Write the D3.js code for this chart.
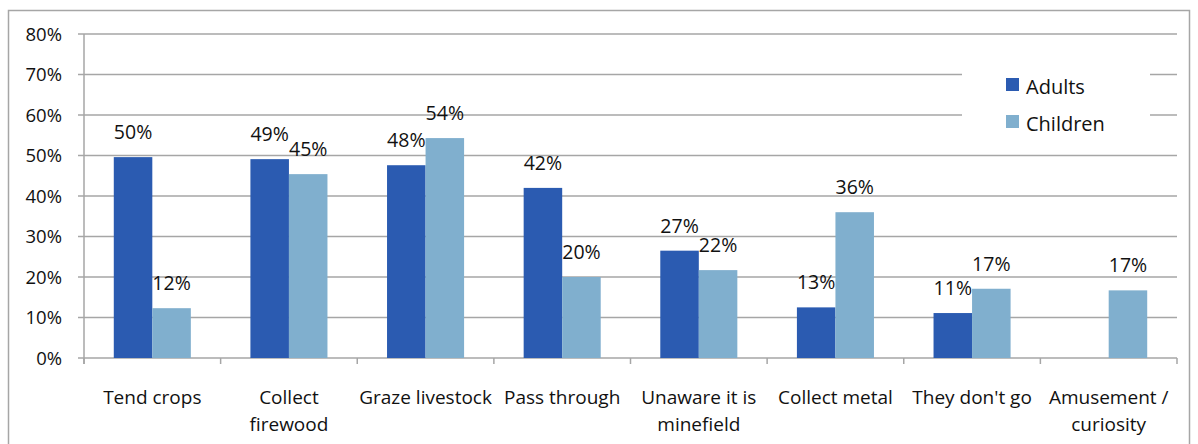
<!DOCTYPE html>
<head>
    <script src="https://d3js.org/d3.v7.min.js"></script>
    <style>
        body { margin: 0; background: #fff; }
        text { font-family: "Open Sans", sans-serif; fill: #111; }
    </style>
</head>
<body>
    <svg></svg>
</body>

<script>
    // Data
    var categories = [
        ["Tend crops"],
        ["Collect", "firewood"],
        ["Graze livestock"],
        ["Pass through"],
        ["Unaware it is", "minefield"],
        ["Collect metal"],
        ["They don't go"],
        ["Amusement /", "curiosity"]
    ];
    var seriesNames = ["Adults", "Children"];
    var adults = [0.496, 0.491, 0.476, 0.42, 0.265, 0.125, 0.111, null];
    var children = [0.123, 0.454, 0.543, 0.20, 0.217, 0.36, 0.171, 0.167];
    var yTicks = [0, 0.1, 0.2, 0.3, 0.4, 0.5, 0.6, 0.7, 0.8];
    var colors = ["#2b5bb1", "#80afce"];

    // Variables
    var width = 1198, height = 444;
    var plot = { left: 84, right: 1177, top: 34, bottom: 358 };

    var svg = d3.select('svg')
        .attr('width', width)
        .attr('height', height);

    // outer frame
    svg.append('rect')
        .attr('x', 8.5).attr('y', 10.5)
        .attr('width', 1181).attr('height', 450)
        .attr('fill', 'none')
        .attr('stroke', '#a6a6a6')
        .attr('stroke-width', 1.5);

    var x0 = d3.scaleBand()
        .domain(d3.range(categories.length))
        .range([plot.left, plot.right]);
    var barW = x0.bandwidth() * 0.282;
    var x1 = d3.scaleBand()
        .domain([0, 1])
        .range([x0.bandwidth() / 2 - barW, x0.bandwidth() / 2 + barW]);

    var y = d3.scaleLinear()
        .domain([0, 0.8])
        .range([plot.bottom, plot.top]);

    // Gridlines
    svg.append('g')
        .selectAll('line')
        .data(yTicks)
        .enter().append('line')
        .attr('x1', plot.left - 6).attr('x2', plot.right)
        .attr('y1', function (d) { return y(d); })
        .attr('y2', function (d) { return y(d); })
        .attr('stroke', '#a6a6a6')
        .attr('stroke-width', 1.5);

    // Y labels
    svg.append('g')
        .selectAll('text')
        .data(yTicks)
        .enter().append('text')
        .attr('x', 62)
        .attr('y', function (d) { return y(d) + 6.5; })
        .attr('text-anchor', 'end')
        .style('font-size', '18.5px')
        .text(d3.format('.0%'));

    // Y axis line
    svg.append('line')
        .attr('x1', plot.left).attr('x2', plot.left)
        .attr('y1', plot.top).attr('y2', plot.bottom + 6)
        .attr('stroke', '#a6a6a6').attr('stroke-width', 1.5);

    // X ticks
    svg.append('g')
        .selectAll('line')
        .data(d3.range(categories.length + 1))
        .enter().append('line')
        .attr('x1', function (i) { return plot.left + i * x0.step(); })
        .attr('x2', function (i) { return plot.left + i * x0.step(); })
        .attr('y1', plot.bottom).attr('y2', plot.bottom + 6)
        .attr('stroke', '#a6a6a6').attr('stroke-width', 1.5);

    // Bars
    var series = [adults, children];
    var rows = [];
    series.forEach(function (vals, s) {
        vals.forEach(function (v, i) {
            if (v !== null) rows.push({ s: s, i: i, v: v });
        });
    });

    svg.append('g')
        .selectAll('rect')
        .data(rows)
        .enter().append('rect')
        .attr('x', function (d) { return x0(d.i) + x1(d.s); })
        .attr('y', function (d) { return y(d.v); })
        .attr('width', x1.bandwidth())
        .attr('height', function (d) { return plot.bottom - y(d.v); })
        .attr('fill', function (d) { return colors[d.s]; });

    // Value labels
    svg.append('g')
        .selectAll('text')
        .data(rows)
        .enter().append('text')
        .attr('x', function (d) { return x0(d.i) + x1(d.s) + x1.bandwidth() / 2; })
        .attr('y', function (d) { return y(d.v) - 18; })
        .attr('text-anchor', 'middle')
        .style('font-size', '19.5px')
        .text(function (d) { return Math.round(d.v * 100) + '%'; });

    // Category labels
    var cat = svg.append('g')
        .selectAll('text')
        .data(categories)
        .enter().append('text')
        .attr('x', function (d, i) { return x0(i) + x0.bandwidth() / 2; })
        .attr('y', 404)
        .attr('text-anchor', 'middle')
        .style('font-size', '19px');
    cat.selectAll('tspan')
        .data(function (d) { return d; })
        .enter().append('tspan')
        .attr('x', function () { return d3.select(this.parentNode).attr('x'); })
        .attr('dy', function (d, j) { return j ? 27 : 0; })
        .text(function (d) { return d; });

    // Legend
    var legend = svg.append('g');
    legend.append('rect')
        .attr('x', 962).attr('y', 58)
        .attr('width', 188).attr('height', 84)
        .attr('fill', '#fff');
    var li = legend.selectAll('g')
        .data(seriesNames)
        .enter().append('g')
        .attr('transform', function (d, i) { return 'translate(1006,' + (78 + i * 37) + ')'; });
    li.append('rect')
        .attr('width', 13).attr('height', 13)
        .attr('fill', function (d, i) { return colors[i]; });
    li.append('text')
        .attr('x', 20).attr('y', 16)
        .style('font-size', '20px')
        .text(function (d) { return d; });
</script>
